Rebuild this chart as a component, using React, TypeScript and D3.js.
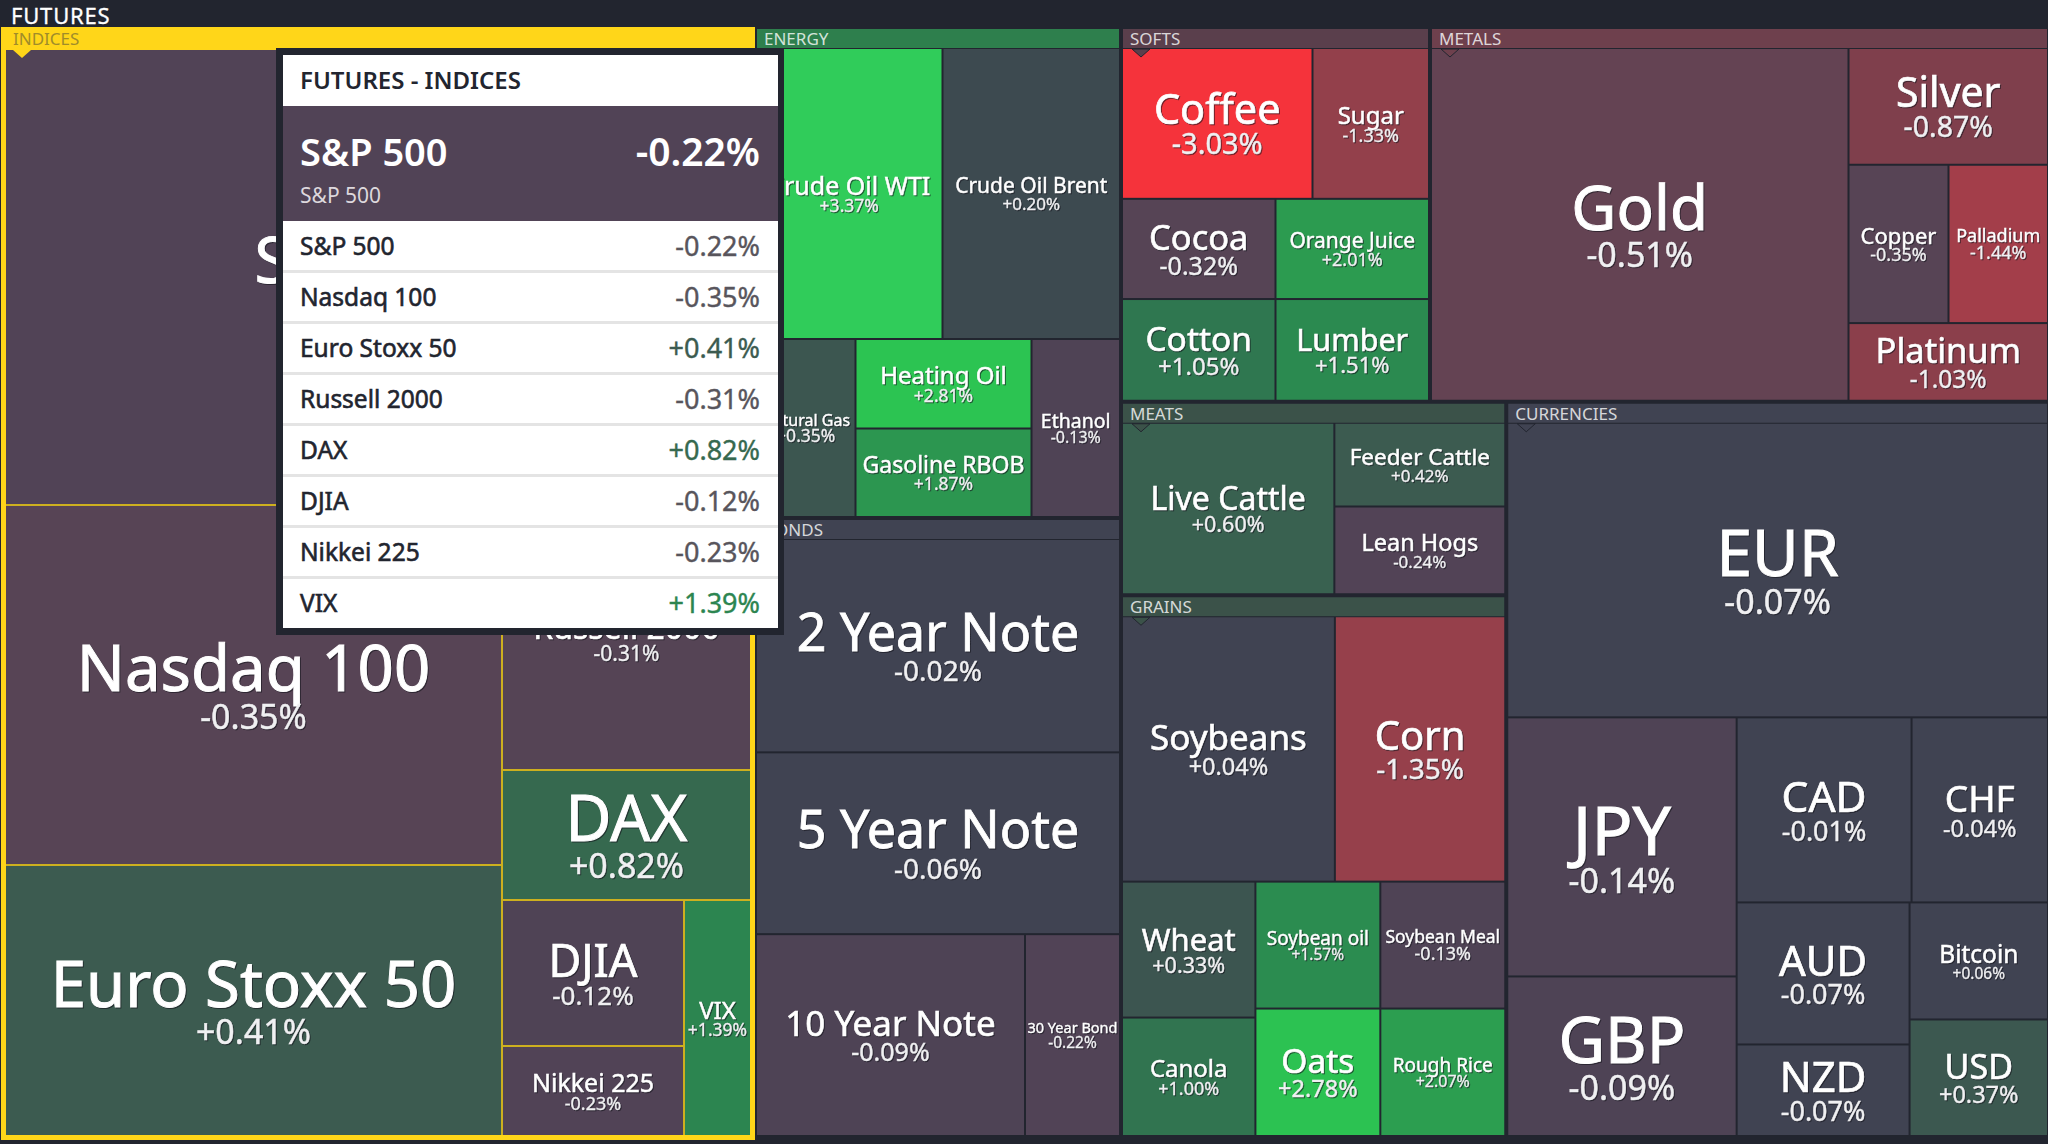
import { useEffect, useRef } from 'react';
import * as d3 from 'd3';

const W = 2048;
const H = 1144;
const FONT = '"Noto Sans", sans-serif';

// --- values ---
const indicesNames = ['S&P 500', 'Nasdaq 100', 'Euro Stoxx 50', 'Russell 2000', 'DAX', 'DJIA', 'Nikkei 225', 'VIX'];
const indicesChanges = [-0.22, -0.35, 0.41, -0.31, 0.82, -0.12, -0.23, 1.39];
const indicesSizes = [340176, 178920, 134687, 65985, 32370, 26572, 16380, 15812];

const energyNames = ['Crude Oil WTI', 'Crude Oil Brent', 'Natural Gas', 'Heating Oil', 'Gasoline RBOB', 'Ethanol'];
const energyChanges = [3.37, 0.2, 0.35, 2.81, 1.87, -0.13];
const energySizes = [54272, 51653, 17711, 15752, 15576, 15753];

const bondsNames = ['2 Year Note', '5 Year Note', '10 Year Note', '30 Year Bond'];
const bondsChanges = [-0.02, -0.06, -0.09, -0.22];
const bondsSizes = [77532, 66066, 54204, 19143];

const softsNames = ['Coffee', 'Sugar', 'Cocoa', 'Orange Juice', 'Cotton', 'Lumber'];
const softsChanges = [-3.03, -1.33, -0.32, 2.01, 1.05, 1.51];
const softsSizes = [28670, 17533, 15350, 15350, 15580, 15580];

const metalsNames = ['Gold', 'Silver', 'Copper', 'Palladium', 'Platinum'];
const metalsChanges = [-0.51, -0.87, -0.35, -1.44, -1.03];
const metalsSizes = [146960, 23242, 15800, 15721, 15461];

const meatsNames = ['Live Cattle', 'Feeder Cattle', 'Lean Hogs'];
const meatsChanges = [0.6, 0.42, -0.24];
const meatsSizes = [36338, 14279, 14963];

const grainsNames = ['Soybeans', 'Corn', 'Wheat', 'Canola', 'Soybean oil', 'Soybean Meal', 'Oats', 'Rough Rice'];
const grainsChanges = [0.04, -1.35, 0.33, 1.0, 1.57, -0.13, 2.78, 2.07];
const grainsSizes = [56552, 45268, 18156, 15820, 15875, 15875, 15938, 15938];

const currenciesNames = ['EUR', 'JPY', 'GBP', 'CAD', 'CHF', 'AUD', 'NZD', 'Bitcoin', 'USD'];
const currenciesChanges = [-0.07, -0.14, -0.09, -0.01, -0.04, -0.07, -0.07, 0.06, 0.37];
const currenciesSizes = [159325, 59441, 36605, 32375, 25253, 24566, 15830, 16205, 16135];

// sector sizes, relative to each other
const sectorTotals = {
  INDICES: 833610,
  ENERGY: 179706,
  BONDS: 226554,
  SOFTS: 115798,
  METALS: 231970,
  MEATS: 74546,
  GRAINS: 208709,
  CURRENCIES: 399056,
};

// --- how each sector is cut up: d = side by side, s = stacked ---
type Split = number | [string, ...Split[]];
const indicesSplit: Split = ['s', 0, ['d', ['s', 1, 2], ['s', 3, 4, ['d', ['s', 5, 6], 7]]]];
const energySplit: Split = ['s', ['d', 0, 1], ['d', 2, ['s', 3, 4], 5]];
const bondsSplit: Split = ['s', 0, 1, ['d', 2, 3]];
const softsSplit: Split = ['s', ['d', 0, 1], ['d', ['s', 2, 4], ['s', 3, 5]]];
const metalsSplit: Split = ['d', 0, ['s', 1, ['d', 2, 3], 4]];
const meatsSplit: Split = ['d', 0, ['s', 1, 2]];
const grainsSplit: Split = ['s', ['d', 0, 1], ['d', ['s', 2, 3], ['s', ['d', 4, 5], ['d', 6, 7]]]];
const currenciesSplit: Split = ['s', 0, ['d', ['s', 1, 2], ['s', ['d', 3, 4], ['d', ['s', 5, 6], ['s', 7, 8]]]]];

// --- styles ---
const headerColors: Record<string, string> = {
  INDICES: '#ffd619',
  ENERGY: '#2e7f4d',
  BONDS: '#404352',
  SOFTS: '#5a3f4c',
  METALS: '#6e404d',
  MEATS: '#3b5249',
  GRAINS: '#3b5249',
  CURRENCIES: '#404352',
};

// name size, percent size
const labelSizes: Record<string, [number, number]> = {
  'S&P 500': [64, 34], 'Nasdaq 100': [63.5, 34], 'Euro Stoxx 50': [63.5, 34], 'Russell 2000': [32, 21],
  DAX: [63, 34], DJIA: [45, 26], 'Nikkei 225': [25, 18], VIX: [24, 17.5],
  'Crude Oil WTI': [25, 17.5], 'Crude Oil Brent': [21, 17], 'Natural Gas': [16, 17.5], 'Heating Oil': [24, 17.5],
  'Gasoline RBOB': [23, 17.5], Ethanol: [19.5, 16],
  '2 Year Note': [52, 28], '5 Year Note': [52, 28], '10 Year Note': [35, 25], '30 Year Bond': [14.5, 15.5],
  Coffee: [41.5, 29], Sugar: [24, 18], Cocoa: [34.5, 25], 'Orange Juice': [21, 18], Cotton: [33.5, 24], Lumber: [30.5, 22],
  Gold: [62, 34], Silver: [41, 28.5], Copper: [22, 18], Palladium: [18, 18], Platinum: [34.5, 24.5],
  'Live Cattle': [32, 21.5], 'Feeder Cattle': [22.5, 17], 'Lean Hogs': [23.5, 17],
  Soybeans: [35, 23.5], Corn: [40, 28], Wheat: [31, 21.5], Canola: [24, 18], 'Soybean oil': [19, 15.5],
  'Soybean Meal': [17.5, 18], Oats: [33.5, 23.5], 'Rough Rice': [19, 16],
  EUR: [64, 34], JPY: [68, 34], GBP: [64, 34], CAD: [42.5, 27], CHF: [37, 23.5], AUD: [42, 27], NZD: [42, 27],
  Bitcoin: [24.5, 15.5], USD: [34, 23.5],
};

const changeColor = d3
  .scaleLinear<string>()
  .domain([-3.03, -1.44, -1.33, -1.03, -0.87, -0.51, -0.35, -0.22, -0.09, -0.08, 0.08, 0.2, 0.41, 0.82, 1.05, 1.51, 2.01, 2.81, 3.37])
  .range(['#f5333b', '#a33e4a', '#93404b', '#8b3f4b', '#7f3f4c', '#644353', '#574455', '#514356', '#4e4355', '#404352', '#404352', '#3d4a50', '#3c5b50', '#36694f', '#2f7750', '#2b8a50', '#2c9b50', '#2cc452', '#30cc5a'])
  .clamp(true);

const fmt = (v: number) => d3.format('+.2f')(v).replace('\u2212', '-') + '%';

function sector(name: string, names: string[], changes: number[], sizes: number[], split: Split) {
  const total = (sectorTotals as any)[name];
  const k = total / d3.sum(sizes);
  const build = (s: Split): any =>
    typeof s === 'number'
      ? { name: names[s], change: changes[s], size: sizes[s] * k, sector: name }
      : { dir: s[0], children: s.slice(1).map((c) => build(c as Split)) };
  return { ...build(split), sectorName: name };
}

const tree = {
  dir: 'd',
  frame: true,
  children: [
    sector('INDICES', indicesNames, indicesChanges, indicesSizes, indicesSplit),
    {
      dir: 'd',
      frame: true,
      children: [
        {
          dir: 's',
          frame: true,
          children: [
            sector('ENERGY', energyNames, energyChanges, energySizes, energySplit),
            sector('BONDS', bondsNames, bondsChanges, bondsSizes, bondsSplit),
          ],
        },
        {
          dir: 's',
          frame: true,
          children: [
            {
              dir: 'd',
              frame: true,
              children: [
                sector('SOFTS', softsNames, softsChanges, softsSizes, softsSplit),
                sector('METALS', metalsNames, metalsChanges, metalsSizes, metalsSplit),
              ],
            },
            {
              dir: 'd',
              frame: true,
              children: [
                {
                  dir: 's',
                  frame: true,
                  children: [
                    sector('MEATS', meatsNames, meatsChanges, meatsSizes, meatsSplit),
                    sector('GRAINS', grainsNames, grainsChanges, grainsSizes, grainsSplit),
                  ],
                },
                sector('CURRENCIES', currenciesNames, currenciesChanges, currenciesSizes, currenciesSplit),
              ],
            },
          ],
        },
      ],
    },
  ],
};

export default function App() {
  const ref = useRef<SVGSVGElement>(null);

  useEffect(() => {
    if (!ref.current) return;
    const svg = d3.select(ref.current);
    svg.selectAll('*').remove();

    const root = d3.hierarchy<any>(tree).sum((d) => d.size || 0);
    d3
      .treemap<any>()
      .size([W, H])
      .tile((node, x0, y0, x1, y1) => (node.data.dir === 'd' ? d3.treemapDice : d3.treemapSlice)(node, x0, y0, x1, y1))
      .paddingInner((d) => (d.data.frame ? 4 : 2))
      .paddingTop((d) => (d.depth === 0 ? 29 : d.data.sectorName === 'INDICES' ? 21 : d.data.sectorName ? 20 : 0))
      .paddingLeft((d) => (d.depth === 0 ? 6 : 0))
      .paddingRight((d) => (d.depth === 0 ? 1 : d.data.sectorName === 'INDICES' ? 3 : 0))
      .paddingBottom((d) => (d.depth === 0 ? 9 : 0))(root);

    const sectors = root.descendants().filter((d: any) => d.data.sectorName);
    const leaves = root.leaves() as any[];

    svg.append('rect').attr('width', W).attr('height', H).attr('fill', '#22252f');

    svg
      .append('text')
      .attr('x', 11)
      .attr('y', 23.8)
      .attr('font-size', 22)
      .attr('letter-spacing', 0.8)
      .attr('fill', '#ffffff')
      .attr('stroke', '#ffffff')
      .attr('stroke-width', 0.3)
      .text('FUTURES');

    // yellow frame of the selected sector
    const ind: any = sectors.find((d: any) => d.data.sectorName === 'INDICES');
    svg
      .append('rect')
      .attr('x', ind.x0 - 5)
      .attr('y', ind.y0 - 2)
      .attr('width', ind.x1 - ind.x0 + 7)
      .attr('height', ind.y1 - ind.y0 + 7)
      .attr('fill', headerColors.INDICES);
    svg
      .append('rect')
      .attr('x', ind.x0)
      .attr('y', ind.y0 + 21)
      .attr('width', ind.x1 - ind.x0 - 3)
      .attr('height', ind.y1 - ind.y0 - 21)
      .attr('fill', '#cdb01f');

    // sector headers
    const heads = svg.append('g');
    sectors.forEach((s: any) => {
      const name = s.data.sectorName;
      const selected = name === 'INDICES';
      if (!selected) {
        heads
          .append('rect')
          .attr('x', s.x0)
          .attr('y', s.y0)
          .attr('width', s.x1 - s.x0)
          .attr('height', 19)
          .attr('fill', headerColors[name]);
      }
      heads
        .append('text')
        .attr('x', s.x0 + 7)
        .attr('y', s.y0 + 16)
        .attr('font-size', 17)
        .attr('fill', selected ? '#a08c2a' : 'rgba(255,255,255,0.8)')
        .text(name);
    });

    // cells
    svg
      .append('g')
      .selectAll('rect')
      .data(leaves)
      .join('rect')
      .attr('x', (d) => d.x0)
      .attr('y', (d) => d.y0)
      .attr('width', (d) => d.x1 - d.x0)
      .attr('height', (d) => d.y1 - d.y0)
      .attr('fill', (d) => changeColor(d.data.change));

    // little markers under the headers
    const marker = d3.line();
    svg
      .append('g')
      .selectAll('path')
      .data(sectors as any[])
      .join('path')
      .attr('d', (s) => {
        const top = s.y0 + (s.data.sectorName === 'INDICES' ? 21 : 20);
        const left = s.x0 + (s.data.sectorName === 'INDICES' ? 7 : 9);
        return marker([[left, top], [left + 18, top], [left + 9, top + 8]]) + 'Z';
      })
      .attr('fill', (s) => headerColors[s.data.sectorName])
      .attr('stroke', (s) => (s.data.sectorName === 'INDICES' ? 'none' : '#22252f'))
      .attr('stroke-width', 1);

    // cell labels
    const labels = svg
      .append('g')
      .style('filter', 'drop-shadow(1px 1.5px 0.5px rgba(20,20,28,0.6))');
    leaves.forEach((d) => {
      const [nameSize, pctSize] = labelSizes[d.data.name];
      const cx = (d.x0 + d.x1) / 2;
      const cy = (d.y0 + d.y1) / 2;
      labels
        .append('text')
        .attr('x', cx)
        .attr('y', cy + 1 - pctSize / 2)
        .attr('dy', '0.35em')
        .attr('text-anchor', 'middle')
        .attr('font-size', nameSize)
        .attr('fill', '#ffffff')
        .attr('stroke', '#ffffff')
        .attr('stroke-width', 0.2 + nameSize * 0.012)
        .text(d.data.name);
      labels
        .append('text')
        .attr('x', cx)
        .attr('y', cy + nameSize / 2)
        .attr('dy', '0.35em')
        .attr('text-anchor', 'middle')
        .attr('font-size', pctSize)
        .attr('fill', '#f0f0f2')
        .attr('stroke', '#f0f0f2')
        .attr('stroke-width', 0.15 + pctSize * 0.01)
        .text(fmt(d.data.change));
    });

    // tooltip
    const tip = svg.append('g');
    tip.append('rect').attr('x', 276).attr('y', 48).attr('width', 508).attr('height', 587).attr('fill', '#22252f');
    tip.append('rect').attr('x', 283).attr('y', 55).attr('width', 495).attr('height', 573).attr('fill', '#ffffff');
    tip
      .append('text')
      .attr('x', 300)
      .attr('y', 89)
      .attr('font-size', 24)
      .attr('font-weight', 600)
      .attr('fill', '#22252f')
      .text('FUTURES - INDICES');
    tip
      .append('rect')
      .attr('x', 283)
      .attr('y', 106)
      .attr('width', 495)
      .attr('height', 115)
      .attr('fill', changeColor(indicesChanges[0]));
    tip
      .append('text')
      .attr('x', 300)
      .attr('y', 166)
      .attr('font-size', 38)
      .attr('font-weight', 600)
      .attr('fill', '#ffffff')
      .text(indicesNames[0]);
    tip
      .append('text')
      .attr('x', 760)
      .attr('y', 166)
      .attr('text-anchor', 'end')
      .attr('font-size', 39)
      .attr('font-weight', 600)
      .attr('fill', '#ffffff')
      .text(fmt(indicesChanges[0]));
    tip
      .append('text')
      .attr('x', 300)
      .attr('y', 203)
      .attr('font-size', 21)
      .attr('fill', '#ddd8dd')
      .text(indicesNames[0]);

    const rowY = d3.scaleBand<string>().domain(indicesNames).range([221, 629]);
    const rows = tip
      .append('g')
      .selectAll('g')
      .data(indicesNames)
      .join('g')
      .attr('transform', (d) => `translate(0,${rowY(d)})`);
    rows
      .filter((_, i) => i < indicesNames.length - 1)
      .append('rect')
      .attr('x', 283)
      .attr('y', rowY.bandwidth() - 2)
      .attr('width', 495)
      .attr('height', 3)
      .attr('fill', '#e4e4e4');
    rows
      .append('text')
      .attr('x', 300)
      .attr('y', rowY.bandwidth() / 2)
      .attr('dy', '0.35em')
      .attr('font-size', 24.5)
      .attr('fill', '#22252f')
      .attr('stroke', '#22252f')
      .attr('stroke-width', 0.6)
      .text((d) => d);
    rows
      .append('text')
      .attr('x', 760)
      .attr('y', rowY.bandwidth() / 2)
      .attr('dy', '0.35em')
      .attr('text-anchor', 'end')
      .attr('font-size', 27)
      .attr('fill', (_, i) => (indicesChanges[i] < 0 ? '#58555c' : changeColor(indicesChanges[i])))
      .attr('stroke', (_, i) => (indicesChanges[i] < 0 ? '#58555c' : changeColor(indicesChanges[i])))
      .attr('stroke-width', 0.4)
      .text((_, i) => fmt(indicesChanges[i]));
  }, []);

  return (
    <svg
      ref={ref}
      width={W}
      height={H}
      viewBox={`0 0 ${W} ${H}`}
      style={{ position: 'absolute', left: 0, top: 0, display: 'block', fontFamily: FONT }}
    />
  );
}
